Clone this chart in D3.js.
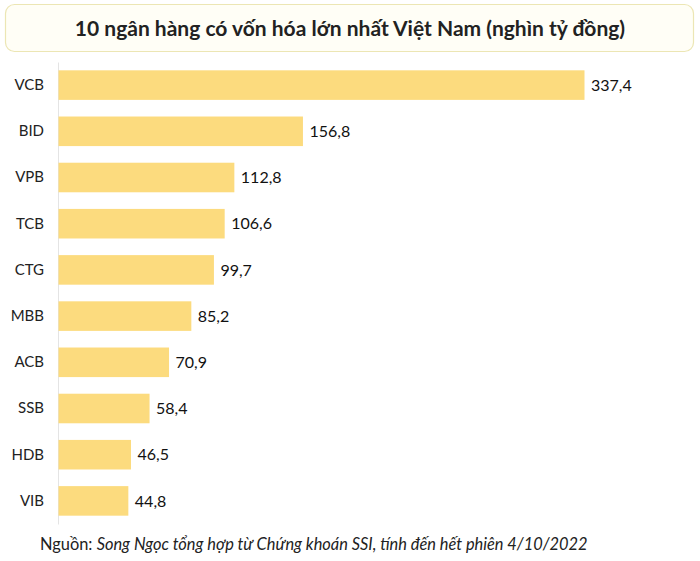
<!DOCTYPE html>
<html>
<head>
<meta charset="utf-8">
<script src="https://cdn.jsdelivr.net/npm/d3@7"></script>
<style>
  body { margin: 0; background: #fff; }
  svg { display: block; font-family: Lato, "Open Sans", sans-serif; }
</style>
</head>
<body>
<svg id="chart" width="700" height="561"></svg>
<script>
var banks  = ["VCB", "BID", "VPB", "TCB", "CTG", "MBB", "ACB", "SSB", "HDB", "VIB"];
var values = [337.4, 156.8, 112.8, 106.6, 99.7, 85.2, 70.9, 58.4, 46.5, 44.8];

var title  = "10 ngân hàng có vốn hóa lớn nhất Việt Nam (nghìn tỷ đồng)";
var source = "Song Ngọc tổng hợp từ Chứng khoán SSI, tính đến hết phiên 4/10/2022";

var chartW = 700, chartH = 561;
var plotLeft = 58, plotTop = 62, plotBottom = 524;

var svg = d3.select("#chart");

// title box
svg.append("rect")
  .attr("x", 5.5).attr("y", 4.5)
  .attr("width", 688).attr("height", 47)
  .attr("rx", 9)
  .attr("fill", "#fffef6")
  .attr("stroke", "#ece6b4")
  .attr("stroke-width", 1.2);

svg.append("text")
  .attr("x", 350).attr("y", 36)
  .attr("text-anchor", "middle")
  .attr("font-size", 21)
  .attr("font-weight", "bold")
  .attr("fill", "#222")
  .text(title);

var x = d3.scaleLinear()
  .domain([0, 337.4])
  .range([plotLeft, 584]);

var y = d3.scaleBand()
  .domain(banks)
  .range([plotTop, plotBottom])
  .paddingInner(0.36)
  .paddingOuter(0.18);

var data = banks.map(function(b, i) { return {bank: b, value: values[i]}; });

// axis
var yAxis = d3.axisLeft(y).tickSize(0).tickPadding(14);
var gy = svg.append("g")
  .attr("transform", "translate(" + plotLeft + ",0)")
  .call(yAxis);
gy.select(".domain").attr("stroke", "#e4e4e4");
gy.selectAll("text")
  .attr("font-size", 15)
  .attr("fill", "#222")
  .attr("font-family", "Lato, sans-serif");

// bars
svg.append("g").selectAll("rect")
  .data(data)
  .enter().append("rect")
  .attr("x", x(0) + 0.5)
  .attr("y", function(d) { return y(d.bank); })
  .attr("width", function(d) { return x(d.value) - x(0); })
  .attr("height", y.bandwidth())
  .attr("fill", "#fcdb7e");

// value labels
svg.append("g").selectAll("text")
  .data(data)
  .enter().append("text")
  .attr("x", function(d) { return x(d.value) + 7; })
  .attr("y", function(d) { return y(d.bank) + y.bandwidth() / 2; })
  .attr("dy", "0.35em")
  .attr("font-size", 16)
  .attr("fill", "#111")
  .text(function(d) { return d3.format(".1f")(d.value).replace(".", ","); });

// source
var src = svg.append("text")
  .attr("x", 40).attr("y", 550)
  .attr("font-size", 16.4)
  .attr("fill", "#222");
src.append("tspan").text("Nguồn: ");
src.append("tspan").attr("font-style", "italic").text(source);
</script>
</body>
</html>
